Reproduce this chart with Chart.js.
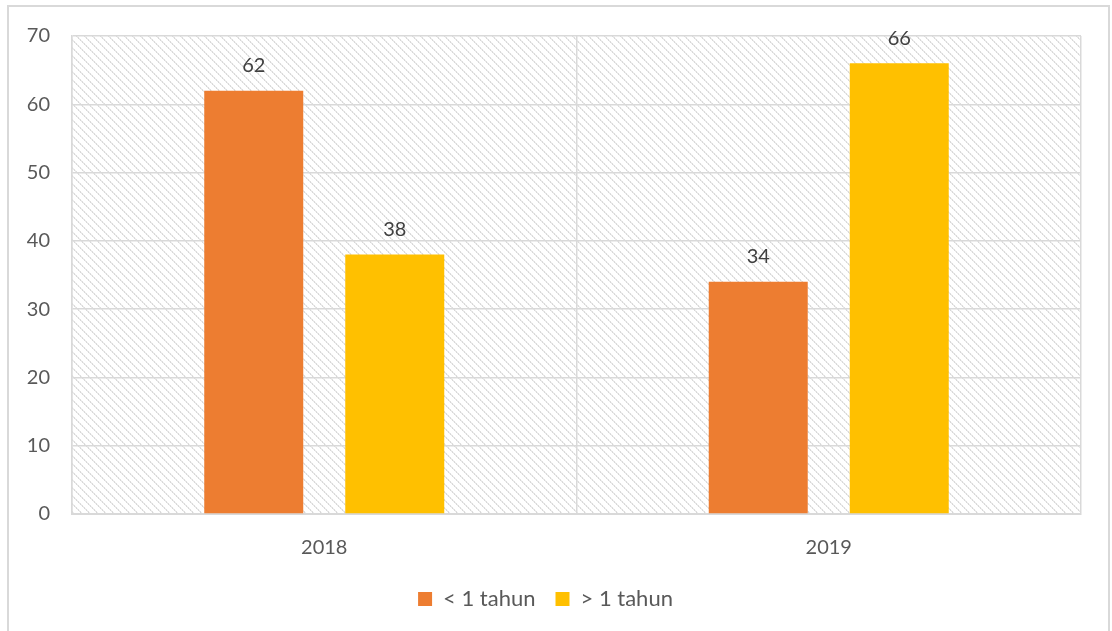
<!DOCTYPE html>
<html><head><meta charset="utf-8">
<script src="https://cdn.jsdelivr.net/npm/chart.js@4/dist/chart.umd.min.js"></script>
<style>html,body{margin:0;padding:0;background:#fff}#wrap{width:1112px;height:631px;position:relative}</style>
</head><body><div id="wrap"><canvas id="c" width="1112" height="631"></canvas></div>
<script>
const categories = ['2018', '2019'];
const seriesNames = ['< 1 tahun', '> 1 tahun'];
const lessThanOne = [62, 34];
const moreThanOne = [38, 66];
const yTicks = [0, 10, 20, 30, 40, 50, 60, 70];

const FONT = 'Lato, "Open Sans", sans-serif';

function makeHatch(ctx) {
  const s = 8;
  const p = document.createElement('canvas');
  p.width = s; p.height = s;
  const g = p.getContext('2d');
  g.fillStyle = '#ffffff'; g.fillRect(0,0,s,s);
  for (let i = 0; i < s; i++) {
    g.fillStyle = (i % 2 === 0) ? '#d8d8d8' : '#e8e8e8';
    g.fillRect(i, i, 1, 1);
    g.fillStyle = (i % 2 === 0) ? '#eeeeee' : '#dedede';
    g.fillRect((i + 1) % s, i, 1, 1);
  }
  return ctx.createPattern(p, 'repeat');
}

const bgPlugin = {
  id: 'bg',
  beforeDraw(chart) {
    const ctx = chart.ctx, a = chart.chartArea;
    ctx.save();
    ctx.fillStyle = '#fff';
    ctx.fillRect(0,0,chart.width,chart.height);
    ctx.strokeStyle = '#d9d9d9'; ctx.lineWidth = 2;
    ctx.strokeRect(8, 6, 1101, 700);
    ctx.fillStyle = makeHatch(ctx);
    ctx.fillRect(a.left, a.top, a.right - a.left, a.bottom - a.top);
    ctx.restore();
  }
};

const labelPlugin = {
  id: 'vals',
  afterDatasetsDraw(chart) {
    const ctx = chart.ctx;
    ctx.save();
    ctx.font = '20px ' + FONT;
    ctx.fillStyle = '#404040';
    ctx.textAlign = 'center';
    ctx.textBaseline = 'bottom';
    chart.data.datasets.forEach((ds, di) => {
      chart.getDatasetMeta(di).data.forEach((el, i) => {
        ctx.fillText(String(ds.data[i]), el.x, el.y - 15);
      });
    });
    ctx.restore();
  }
};

new Chart(document.getElementById('c'), {
  type: 'bar',
  data: {
    labels: categories,
    datasets: [
      { label: seriesNames[0], data: lessThanOne, backgroundColor: '#ed7d31' },
      { label: seriesNames[1], data: moreThanOne, backgroundColor: '#ffc000' }
    ]
  },
  options: {
    responsive: false,
    animation: false,
    devicePixelRatio: 1,
    categoryPercentage: 0.559,
    barPercentage: 0.702,
    layout: { padding: { left: 10, top: 36, right: 31, bottom: 11 } },
    plugins: {
      tooltip: { enabled: false },
      legend: {
        position: 'bottom',
        labels: { boxWidth: 14, boxHeight: 14, color: '#595959', font: { family: FONT, size: 22 }, padding: 20 }
      }
    },
    scales: {
      x: {
        grid: { color: '#d9d9d9', lineWidth: 1.5, offset: true, drawTicks: false },
        border: { color: '#d9d9d9', width: 2 },
        ticks: { color: '#595959', font: { family: FONT, size: 20 }, padding: 22 },
        afterFit(s) { s.height = 54; }
      },
      y: {
        min: 0, max: 70,
        afterBuildTicks(s) { s.ticks = yTicks.map(v => ({ value: v })); },
        grid: { color: '#d9d9d9', lineWidth: 1.5, drawTicks: false },
        border: { color: '#d9d9d9', width: 1.5 },
        ticks: { color: '#595959', font: { family: FONT, size: 20 }, padding: 22 },
        afterFit(s) { s.width = 62; }
      }
    }
  },
  plugins: [bgPlugin, labelPlugin]
});
</script></body></html>
